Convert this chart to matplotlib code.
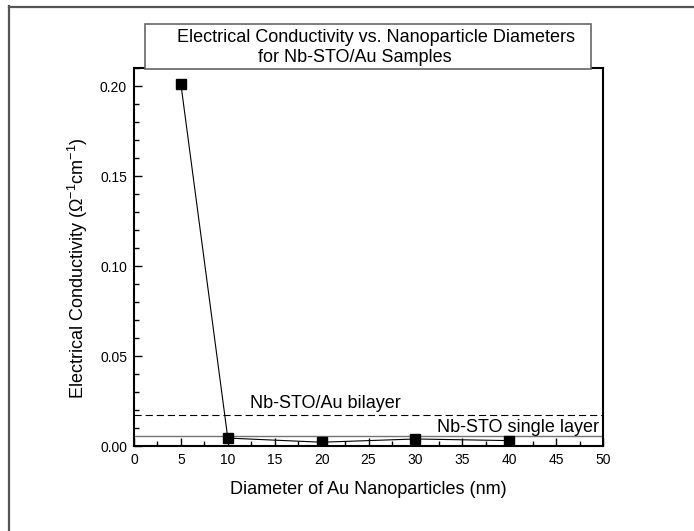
import numpy as np
import matplotlib
matplotlib.use("Agg")
import matplotlib.pyplot as plt
from matplotlib.patches import Rectangle
from matplotlib.lines import Line2D
from matplotlib.ticker import MultipleLocator, FormatStrFormatter

plt.rcParams['font.family'] = ['Liberation Sans', 'DejaVu Sans']
plt.rcParams['mathtext.fontset'] = 'custom'
plt.rcParams['mathtext.rm'] = 'Liberation Sans'
plt.rcParams['mathtext.it'] = 'Liberation Sans:italic'

# data
diameter = [5, 10, 20, 30, 40]
conductivity = [0.201, 0.0044, 0.0021, 0.0039, 0.0030]
bilayer_level = 0.0172
single_level = 0.0057

title_lines = ["Electrical Conductivity vs. Nanoparticle Diameters",
               "for Nb-STO/Au Samples"]
x_ticks = [0, 5, 10, 15, 20, 25, 30, 35, 40, 45, 50]
y_ticks = [0.00, 0.05, 0.10, 0.15, 0.20]

fig = plt.figure(figsize=(6.94, 5.31), dpi=100)
ax = fig.add_axes([134/694, 1-446/531, 469/694, 378/531])

ax.axhline(bilayer_level, color='black', lw=0.8, ls=(0, (6.5, 3.5)), zorder=1)
ax.axhline(single_level, color='0.45', lw=1.0, zorder=1)
ax.plot(diameter, conductivity, color='black', lw=0.8, marker='s',
        markersize=6.5, zorder=3)

ax.text(12.4, 0.0237, "Nb-STO/Au bilayer", fontsize=13, va='center', ha='left')
ax.text(49.6, 0.0105, "Nb-STO single layer", fontsize=13, va='center', ha='right')

ax.set_xlim(0, 50)
ax.set_ylim(0, 0.21)
ax.set_xticks(x_ticks)
ax.set_yticks(y_ticks)
ax.yaxis.set_major_formatter(FormatStrFormatter('%.2f'))
ax.xaxis.set_minor_locator(MultipleLocator(2.5))
ax.yaxis.set_minor_locator(MultipleLocator(0.01))
ax.tick_params(which='both', direction='in', top=False, right=False,
               labelsize=10, width=1.0, pad=5)
ax.tick_params(which='major', length=6)
ax.tick_params(which='minor', length=3.5)
for sp in ax.spines.values():
    sp.set_linewidth(1.5)

ax.set_xlabel("Diameter of Au Nanoparticles (nm)", fontsize=13)
ax.xaxis.set_label_coords(0.5, -0.114)
ax.xaxis.label.set_va('center')
ax.set_ylabel(r"Electrical Conductivity (Ω$^{-1}$cm$^{-1}$)", fontsize=13)
ax.yaxis.set_label_coords(-0.12, 0.47)
ax.yaxis.label.set_va('center')

# title box drawn over the top spine
box = Rectangle((145/694, 1-69/531), 446/694, 45/531, transform=fig.transFigure,
                facecolor='white', edgecolor='0.4', lw=1.2, zorder=10)
fig.add_artist(box)
fig.text(376/694, 1-38/531, title_lines[0], fontsize=13, ha='center', va='center', zorder=11)
fig.text(355/694, 1-58/531, title_lines[1], fontsize=13, ha='center', va='center', zorder=11)

# outer frame: top and left edges only
fig.add_artist(Line2D([9/694, 1], [1-6.7/531, 1-6.7/531], transform=fig.transFigure,
                      color='0.33', lw=1.6))
fig.add_artist(Line2D([9.3/694, 9.3/694], [0, 1-6/531], transform=fig.transFigure,
                      color='0.33', lw=1.6))

fig.savefig("out.png", dpi=100)
